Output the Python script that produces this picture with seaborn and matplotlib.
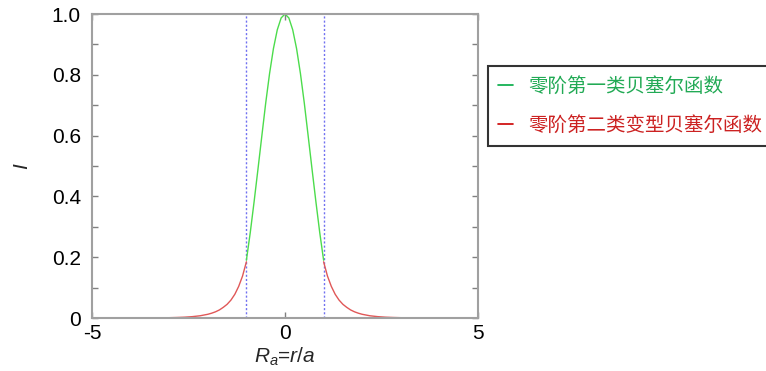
import numpy as np
import pandas as pd
import matplotlib
matplotlib.use("Agg")
import matplotlib.pyplot as plt
import seaborn as sns
from matplotlib.lines import Line2D

# ---- data ----
core_r = [-1.0, -0.9, -0.8, -0.7, -0.6, -0.5, -0.4, -0.3, -0.2, -0.1, 0.0,
          0.1, 0.2, 0.3, 0.4, 0.5, 0.6, 0.7, 0.8, 0.9, 1.0]
core_i = [0.190, 0.281, 0.383, 0.490, 0.599, 0.707, 0.804, 0.886, 0.948, 0.987, 1.0,
          0.987, 0.948, 0.886, 0.804, 0.707, 0.599, 0.490, 0.383, 0.281, 0.190]
clad_r = [1.0, 1.1, 1.2, 1.3, 1.4, 1.5, 1.6, 1.7, 1.8, 1.9, 2.0, 2.2, 2.4, 2.6,
          2.8, 3.0, 3.5, 4.0, 4.5, 5.0]
clad_i = [0.185, 0.138, 0.104, 0.078, 0.059, 0.045, 0.035, 0.0265, 0.0204, 0.0158,
          0.0122, 0.0073, 0.0045, 0.0027, 0.0017, 0.0010, 0.0003, 0.0001, 0.0, 0.0]
boundaries = [-1.0, 1.0]
series_names = ["零阶第一类贝塞尔函数", "零阶第二类变型贝塞尔函数"]
x_ticks = [-5, 0, 5]
y_ticks = [0, 0.2, 0.4, 0.6, 0.8, 1.0]
y_ticklabels = ["0", "0.2", "0.4", "0.6", "0.8", "1.0"]

# ---- build table ----
rows = []
for r, v in zip(core_r, core_i):
    rows.append((r, v, series_names[0], "core"))
for r, v in zip(clad_r, clad_i):
    rows.append((r, v, series_names[1], "right"))
for r, v in zip(clad_r, clad_i):
    rows.append((-r, v, series_names[1], "left"))
df = pd.DataFrame(rows, columns=["R", "I", "kind", "part"])

sns.set_style("ticks")
plt.rcParams["font.family"] = ["Liberation Sans", "DejaVu Sans"]
plt.rcParams["mathtext.fontset"] = "custom"
plt.rcParams["mathtext.rm"] = "Liberation Sans"
plt.rcParams["mathtext.it"] = "Liberation Sans:italic"

fig = plt.figure(figsize=(7.66, 3.71), dpi=100)
ax = fig.add_axes([92 / 766, 1 - 318 / 371, 386 / 766, 304 / 371])

curve_colors = {series_names[0]: "#4cdc4c", series_names[1]: "#e05858"}
sns.lineplot(data=df, x="R", y="I", hue="kind", units="part", estimator=None,
             palette=curve_colors, linewidth=1.0, legend=False, ax=ax, sort=False)

for b in boundaries:
    ax.axvline(b, color="#7070f0", linestyle=(0, (1.5, 1.5)), linewidth=1.0, zorder=1)

ax.set_xlim(-5, 5)
ax.set_ylim(0, 1.0)
ax.set_xticks(x_ticks)
ax.set_xticklabels([str(t) for t in x_ticks])
ax.set_yticks(y_ticks)
ax.set_yticklabels(y_ticklabels)
ax.set_yticks(np.arange(0.1, 1.0, 0.2), minor=True)

for s in ax.spines.values():
    s.set_visible(True)
    s.set_color("#a0a0a0")
    s.set_linewidth(1.5)

ax.tick_params(axis="both", which="both", direction="in", top=True, right=True,
               length=4, width=1, color="#808080", labelsize=15, labelcolor="black")
ax.tick_params(axis="y", pad=8)
ax.tick_params(axis="x", pad=4)

ax.set_xlabel(r"$R_a$=$r/a$", fontsize=15, labelpad=2)
ax.set_ylabel(r"$I$", fontsize=15, labelpad=14)

handles = [Line2D([], [], color="#00aa44", linewidth=1.2),
           Line2D([], [], color="#cc0000", linewidth=1.2)]
leg = fig.legend(handles, series_names, loc="upper left",
                 bbox_to_anchor=(488 / 766, 1 - 66 / 371),
                 prop={"family": ["Noto Sans CJK SC", "DejaVu Sans"], "size": 14},
                 frameon=True, fancybox=False, handlelength=0.8,
                 handletextpad=0.75, labelspacing=0.95, borderpad=0.5,
                 borderaxespad=0)
leg.get_frame().set_edgecolor("#333333")
leg.get_frame().set_linewidth(1.5)
leg.get_frame().set_alpha(1)
leg.get_texts()[0].set_color("#22aa55")
leg.get_texts()[1].set_color("#cc2222")

fig.savefig("out.png", dpi=100)
